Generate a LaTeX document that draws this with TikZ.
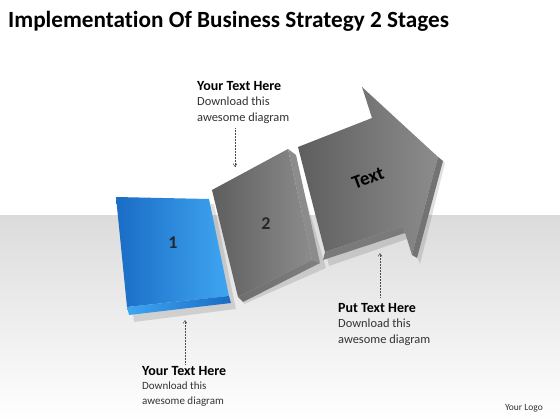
\documentclass[tikz,border=0pt]{standalone}
\usepackage{fontspec}
\setmainfont{Carlito}[Ligatures=NoCommon]
\usetikzlibrary{arrows.meta}
\definecolor{bluedark}{HTML}{1A6CC4}
\definecolor{bluelight}{HTML}{3FA6F2}
\definecolor{graydark}{HTML}{5E5E5E}
\definecolor{graylight}{HTML}{8C8C8C}
\definecolor{textgray}{HTML}{333333}
\newcommand{\nhead}[1]{{\bfseries\fontsize{14}{15.5}\selectfont\textcolor{black}{#1}}}
\begin{document}
\begin{tikzpicture}[x=1pt,y=-1pt,
  note/.style={anchor=north west,align=left,inner sep=0pt,font=\fontsize{12.4}{15.5}\selectfont,text=textgray},
  notesmall/.style={note,font=\fontsize{11}{14.5}\selectfont},
  pointer/.style={densely dotted,black!70,line width=0.5pt,-{Straight Barb[length=3pt,width=4pt]}},
  shadowpoly/.style={fill=black,opacity=0.12},
  numlabel/.style={font=\bfseries\fontsize{18}{18}\selectfont,text=black!85}]
\useasboundingbox (0,0) rectangle (560,420);
\fill[white] (0,0) rectangle (560,420);
\shade[top color=black!14,bottom color=white] (0,215) rectangle (560,420);
% title
\node[anchor=base west,inner sep=0pt,font=\bfseries\fontsize{23.2}{25}\selectfont] (title) at (8,28) {Implementation Of Business Strategy 2 Stages};
% shadows
\fill[shadowpoly] (121,202) -- (214,204) -- (236,309) -- (134,322) -- cycle;
\fill[shadowpoly] (217,196) -- (293,155) -- (326,268) -- (244,304) -- cycle;
\fill[shadowpoly] (303,153) -- (377,124) -- (367,93) -- (445,163) -- (420,264) -- (410,238) -- (329,266) -- cycle;
% panel 1
\shade[left color=bluedark,right color=bluelight] (116,197) -- (209,199) -- (229,296) -- (127,307) -- cycle;
\shade[left color=bluelight,right color=bluedark] (127,307) -- (229,296) -- (231,303) -- (129,315) -- cycle;
\node[numlabel] (n1) at (173,243) {1};
% panel 2
\shade[left color=graydark,right color=graylight] (212,190) -- (288,149) -- (312,260) -- (238,297) -- cycle;
\fill[black!45] (288,149) -- (296,155) -- (320,263) -- (312,260) -- cycle;
\shade[left color=graydark!90,right color=black!50] (238,297) -- (312,260) -- (320,263) -- (243,302) -- cycle;
\node[numlabel] (n2) at (266,224) {2};
% arrow
\shade[left color=graydark,right color=graylight] (298,147) -- (372,118) -- (362,87) -- (438,157) -- (412,255) -- (403,226) -- (325,252) -- cycle;
\fill[black!52] (325,252) -- (403,226) -- (405,233) -- (323,260) -- cycle;
\fill[black!55] (438,157) -- (443,161) -- (417,258) -- (412,255) -- cycle;
\node[font=\bfseries\fontsize{19}{19}\selectfont,rotate=20,text=black] (txt) at (368,178) {Text};
% annotations
\node[note] (a1) at (197,81) {\nhead{Your Text Here}\\Download this\\awesome diagram};
\node[notesmall] (a2) at (142,366) {\nhead{Your Text Here}\\Download this\\awesome diagram};
\node[note] (a3) at (338,303) {\nhead{Put Text Here}\\Download this\\awesome diagram};
\coordinate (s1) at (235,128);
\coordinate (e1) at (235,167);
\coordinate (s2) at (185,364);
\coordinate (e2) at (185,320);
\coordinate (s3) at (380,297);
\coordinate (e3) at (380,253);
\draw[pointer] (s1) -- (e1);
\draw[pointer] (s2) -- (e2);
\draw[pointer] (s3) -- (e3);
\node[anchor=base east,inner sep=0pt,font=\fontsize{9.5}{10}\selectfont,text=textgray] (logo) at (543,410) {Your Logo};
\end{tikzpicture}
\end{document}
